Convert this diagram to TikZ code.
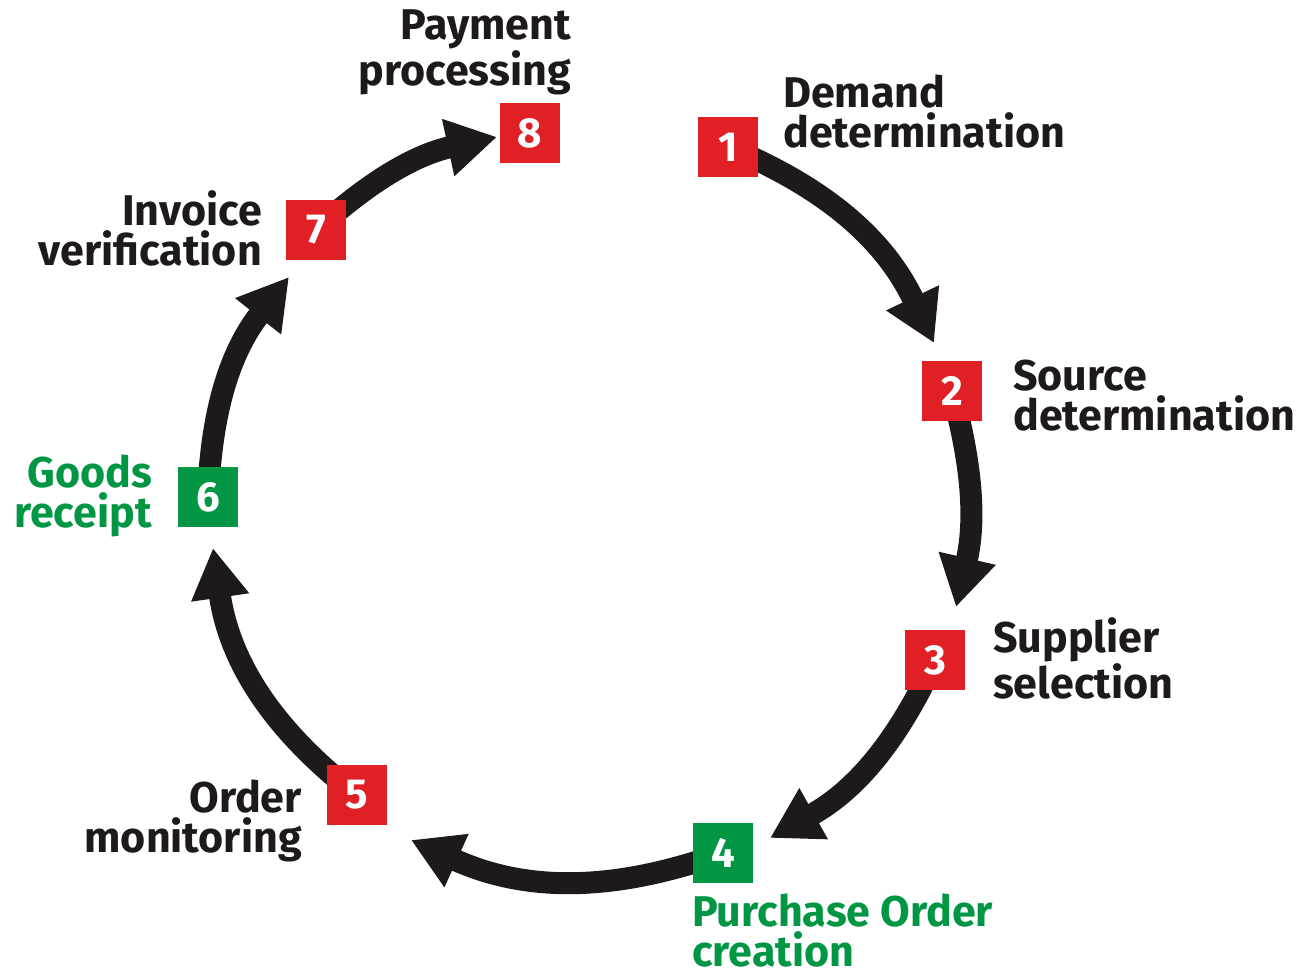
\documentclass[tikz,border=0pt]{standalone}
\usepackage{fontspec}
\setmainfont{Fira Sans}
\usetikzlibrary{arrows.meta,backgrounds}
\definecolor{boxred}{RGB}{224,32,36}
\definecolor{boxgreen}{RGB}{0,150,68}
\definecolor{inkblack}{RGB}{30,26,26}
\tikzset{
  numbox/.style={minimum size=60pt, inner sep=0pt, fill=#1, text=white,
    font=\fontsize{42}{40}\selectfont\bfseries},
  lbl/.style={inner sep=0pt, text=inkblack, font=\fontsize{43}{40}\selectfont\bfseries},
  lblL/.style={lbl, align=left, anchor=base west},
  lblR/.style={lbl, align=right, anchor=base east},
  arr/.style={line width=22pt, draw=inkblack,
    -{Triangle[width=55pt,length=50pt]}},
}
\begin{document}
\begin{tikzpicture}[x=1pt,y=-1pt]
\useasboundingbox (0,0) rectangle (1312,975);
% boxes
\node[numbox=boxred]   (b1) at (728,147) {1};
\node[numbox=boxred]   (b2) at (952,391) {2};
\node[numbox=boxred]   (b3) at (935,660) {3};
\node[numbox=boxgreen] (b4) at (723,853) {4};
\node[numbox=boxred]   (b5) at (357,795) {5};
\node[numbox=boxgreen] (b6) at (208,497) {6};
\node[numbox=boxred]   (b7) at (316,230) {7};
\node[numbox=boxred]   (b8) at (530,133) {8};
% labels (anchor = baseline of last line)
\node[lblR] (l8) at (571,85)  {Payment\\processing};
\node[lblL] (l1) at (783,147) {Demand\\determination};
\node[lblL] (l2) at (1013,430) {Source\\determination};
\node[lblL] (l3) at (993,698) {Supplier\\selection};
\node[lblL, text=boxgreen] (l4) at (692,966) {Purchase Order\\creation};
\node[lblR] (l5) at (302,852) {Order\\monitoring};
\node[lblR, text=boxgreen] (l6) at (152,527) {Goods\\receipt};
\node[lblR] (l7) at (262,265) {Invoice\\verification};
% arrow tips
\coordinate (t1) at (934,343);
\coordinate (t2) at (956,607);
\coordinate (t3) at (770,838);
\coordinate (t4) at (411,840);
\coordinate (t5) at (213,548);
\coordinate (t6) at (289,277);
\coordinate (t7) at (497,137);
\begin{scope}[on background layer]
\draw[arr] (b1.center) to[bend left=21] (t1);
\draw[arr] (b2.center) to[bend left=14] (t2);
\draw[arr] (b3.center) to[bend left=18] (t3);
\draw[arr] (b4.center) to[bend left=22] (t4);
\draw[arr] (b5.center) to[bend left=22] (t5);
\draw[arr] (b6.center) to[bend left=18] (t6);
\draw[arr] (b7.center) to[bend left=15] (t7);
\end{scope}
\end{tikzpicture}
\end{document}
